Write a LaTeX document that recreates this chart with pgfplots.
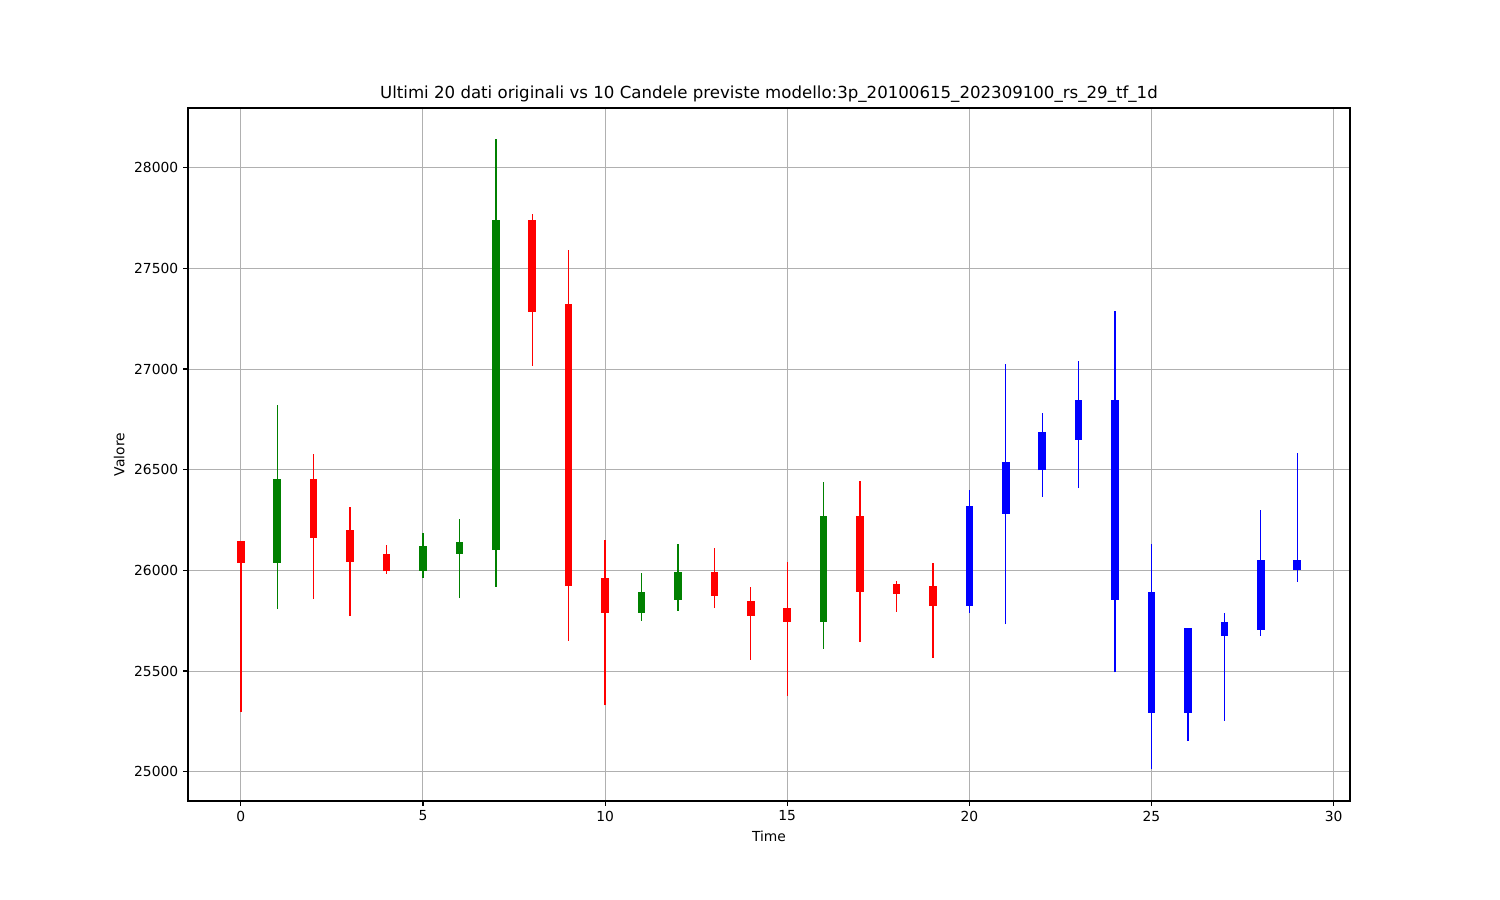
\documentclass[border=0pt]{standalone}
\usepackage{fontspec}
\setmainfont{DejaVu Sans}
\usepackage{pgfplots}
\usepackage{pgfplotstable}
\pgfplotsset{compat=1.18}

\definecolor{mplgreen}{RGB}{0,128,0}
\definecolor{gridgray}{RGB}{176,176,176}

% x  low  high  body-bottom  body-top
\pgfplotstableread{
x  lo    hi    blo   bhi
0  25298 26146 26038 26146
2  25857 26578 26160 26453
3  25773 26316 26041 26200
4  25982 26127 25995 26082
8  27016 27769 27285 27740
9  25650 27592 25922 27323
10 25330 26153 25789 25960
13 25813 26109 25873 25990
14 25556 25918 25775 25847
15 25377 26042 25744 25812
17 25644 26445 25893 26272
18 25795 25945 25883 25930
19 25565 26035 25823 25920
}\reddata

\pgfplotstableread{
x  lo    hi    blo   bhi
1  25808 26823 26038 26453
5  25962 26187 25997 26122
6  25862 26256 26082 26142
7  25919 28140 26101 27740
11 25750 25985 25789 25893
12 25800 26133 25853 25990
16 25610 26440 25744 26272
}\greendata

\pgfplotstableread{
x  lo    hi    blo   bhi
20 25790 26399 25824 26319
21 25733 27026 26281 26536
22 26366 26781 26498 26687
23 26409 27041 26649 26848
24 25493 27290 25854 26848
25 25011 26131 25293 25894
26 25152 25713 25293 25713
27 25254 25789 25675 25745
28 25675 26301 25705 26051
29 25943 26584 26001 26051
}\bluedata

\pgfplotsset{
  wick/.style={draw=none, mark=none, forget plot,
    error bars/.cd, y dir=plus, y explicit, error mark=none,
    error bar style={draw=#1, line width=1pt}},
  body/.style={draw=none, mark=none, forget plot,
    error bars/.cd, y dir=plus, y explicit, error mark=none,
    error bar style={draw=#1, line width=0.075in, line cap=butt}},
}

\begin{document}
\begin{tikzpicture}
\useasboundingbox (0,0) rectangle (15in,9in);
\begin{axis}[
  at={(1.88in,0.99in)}, anchor=south west,
  width=11.62in, height=6.93in, scale only axis,
  xmin=-1.45, xmax=30.45,
  ymin=24854.5, ymax=28296.5,
  xtick={0,5,...,30},
  ytick={25000,25500,...,28000},
  scaled y ticks=false,
  /pgf/number format/.cd, set thousands separator={}, assume math mode=true,
  /pgfplots/.cd,
  tick align=outside, xtick pos=bottom, ytick pos=left,
  major tick length=0.049in,
  tick style={black, line width=0.8pt},
  axis line style={line width=0.8pt},
  grid=major,
  major grid style={gridgray, line width=0.75pt},
  xlabel={Time}, ylabel={Valore},
  title={Ultimi 20 dati originali vs 10 Candele previste modello:3p\_20100615\_202309100\_rs\_29\_tf\_1d},
  title style={anchor=base, yshift=0.5pt, font=\fontsize{12}{14}\selectfont},
  label style={font=\fontsize{10}{12}\selectfont},
  tick label style={font=\fontsize{10}{12}\selectfont},
]
\addplot[wick=red] table[x=x, y=lo, y error expr=\thisrow{hi}-\thisrow{lo}] {\reddata};
\addplot[body=red] table[x=x, y=blo, y error expr=\thisrow{bhi}-\thisrow{blo}] {\reddata};
\addplot[wick=mplgreen] table[x=x, y=lo, y error expr=\thisrow{hi}-\thisrow{lo}] {\greendata};
\addplot[body=mplgreen] table[x=x, y=blo, y error expr=\thisrow{bhi}-\thisrow{blo}] {\greendata};
\addplot[wick=blue] table[x=x, y=lo, y error expr=\thisrow{hi}-\thisrow{lo}] {\bluedata};
\addplot[body=blue] table[x=x, y=blo, y error expr=\thisrow{bhi}-\thisrow{blo}] {\bluedata};
\end{axis}
\end{tikzpicture}
\end{document}
